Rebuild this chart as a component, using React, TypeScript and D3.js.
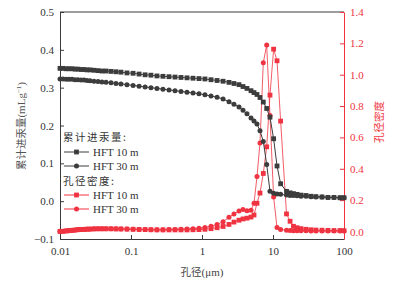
import { useEffect, useRef } from "react";
import * as d3 from "d3";

// pore diameter (µm), shared by both samples
const diameters = [
  0.01, 0.011, 0.0122, 0.0134, 0.0148, 0.0163, 0.0179, 0.0198, 0.0218, 0.024, 0.0265,
  0.0301, 0.0343, 0.039, 0.0445, 0.0523, 0.0615, 0.0723, 0.0878, 0.107, 0.13,
  0.158, 0.191, 0.232, 0.282, 0.343, 0.417, 0.506, 0.615, 0.747, 0.907,
  1.1, 1.34, 1.63, 1.98, 2.4, 2.82, 3.32, 3.78, 4.3, 4.9,
  5.4, 5.95, 6.56, 7.3, 8.15, 9.07, 10.2, 11.4, 12.8,
  15.5, 17.4, 19.4, 21.8, 24.8, 29.2, 34.3, 40.3, 49.0, 59.5, 72.3, 87.8, 100,
];

// cumulative intrusion (mL/g)
const cum10 = [
  0.351, 0.351, 0.35, 0.35, 0.35, 0.349, 0.349, 0.348, 0.348, 0.347, 0.347,
  0.346, 0.345, 0.344, 0.344, 0.343, 0.342, 0.341, 0.339, 0.338, 0.336,
  0.334, 0.333, 0.331, 0.33, 0.329, 0.328, 0.327, 0.326, 0.325, 0.324,
  0.323, 0.321, 0.319, 0.317, 0.314, 0.311, 0.308, 0.303, 0.298, 0.292,
  0.287, 0.282, 0.274, 0.262, 0.245, 0.222, 0.165, 0.093, 0.046,
  0.026, 0.022, 0.02, 0.018, 0.016, 0.015, 0.013, 0.012, 0.011, 0.01, 0.01, 0.009, 0.009,
];
const cum30 = [
  0.323, 0.323, 0.322, 0.322, 0.322, 0.321, 0.321, 0.32, 0.32, 0.319, 0.318,
  0.317, 0.316, 0.315, 0.314, 0.313, 0.311, 0.31, 0.308, 0.306, 0.304,
  0.302, 0.3, 0.298, 0.296, 0.294, 0.292, 0.29, 0.288, 0.286, 0.284,
  0.281, 0.278, 0.275, 0.27, 0.263, 0.256, 0.249, 0.24, 0.231, 0.22,
  0.212, 0.204, 0.186, 0.158, 0.097, 0.026, 0.021, 0.019, 0.018,
  0.016, 0.015, 0.015, 0.014, 0.013, 0.013, 0.012, 0.011, 0.011, 0.01, 0.01, 0.009, 0.009,
];

// pore size density
const dens10 = [
  0.0, 0.001, 0.003, 0.005, 0.007, 0.009, 0.011, 0.012, 0.013, 0.014, 0.015,
  0.016, 0.017, 0.017, 0.017, 0.017, 0.016, 0.016, 0.015, 0.014, 0.013,
  0.012, 0.011, 0.01, 0.01, 0.01, 0.01, 0.01, 0.01, 0.011, 0.012,
  0.014, 0.018, 0.024, 0.032, 0.045, 0.06, 0.072, 0.08, 0.085, 0.092,
  0.105, 0.18, 0.245, 0.37, 0.54, 0.87, 1.163, 1.089, 0.704,
  0.112, 0.065, 0.033, 0.024, 0.018, 0.014, 0.011, 0.009, 0.008, 0.007, 0.006, 0.006, 0.005,
];
const dens30 = [
  0.002, 0.002, 0.004, 0.006, 0.008, 0.01, 0.012, 0.013, 0.014, 0.015, 0.016,
  0.017, 0.018, 0.018, 0.018, 0.017, 0.017, 0.016, 0.015, 0.014, 0.013,
  0.012, 0.011, 0.011, 0.011, 0.012, 0.013, 0.014, 0.016, 0.018, 0.02,
  0.026, 0.034, 0.045, 0.062, 0.09, 0.112, 0.13, 0.14, 0.133, 0.136,
  0.18, 0.35, 0.565, 1.076, 1.19, 0.74, 0.22, 0.025, 0.013,
  0.008, 0.006, 0.005, 0.005, 0.004, 0.004, 0.003, 0.003, 0.003, 0.003, 0.003, 0.003, 0.003,
];

const xTicks = [0.01, 0.1, 1, 10, 100];
const leftTicks = [-0.1, 0.0, 0.1, 0.2, 0.3, 0.4, 0.5];
const rightTicks = [0.0, 0.2, 0.4, 0.6, 0.8, 1.0, 1.2, 1.4];

const GRAY = "#3c3c3c";
const RED = "#ef3340";
const FONT = "'Liberation Serif', 'DejaVu Serif', serif";
const CJK = "'Noto Sans CJK SC', sans-serif";

export default function App() {
  const svgRef = useRef<SVGSVGElement>(null);

  useEffect(() => {
    const width = 407;
    const height = 284;
    const margin = { top: 12, right: 63, bottom: 45, left: 60 };
    const svg = d3.select(svgRef.current);
    svg.selectAll("*").remove();

    const x = d3
      .scaleLog()
      .domain([0.01, 100])
      .range([margin.left, width - margin.right]);
    const yL = d3
      .scaleLinear()
      .domain([-0.1, 0.5])
      .range([height - margin.bottom, margin.top]);
    const yR = d3
      .scaleLinear()
      .domain([-0.048, 1.4])
      .range([height - margin.bottom, margin.top]);

    // top frame line
    svg
      .append("line")
      .attr("x1", margin.left)
      .attr("x2", width - margin.right)
      .attr("y1", margin.top)
      .attr("y2", margin.top)
      .attr("stroke", GRAY)
      .attr("stroke-width", 1);

    // x axis
    const gx = svg
      .append("g")
      .attr("transform", `translate(0,${height - margin.bottom})`)
      .call(
        d3
          .axisBottom(x)
          .tickValues(xTicks)
          .tickFormat((d) => String(d))
          .tickSizeInner(-4)
          .tickSizeOuter(0)
          .tickPadding(8)
      );
    gx.select(".domain").attr("stroke", GRAY);
    gx.selectAll(".tick line").attr("stroke", GRAY);
    gx.selectAll("text")
      .attr("fill", "#333")
      .style("font-family", FONT)
      .style("font-size", "11px");

    // left axis
    const gl = svg
      .append("g")
      .attr("transform", `translate(${margin.left},0)`)
      .call(
        d3
          .axisLeft(yL)
          .tickValues(leftTicks)
          .tickFormat(d3.format(".1f"))
          .tickSizeInner(-4)
          .tickSizeOuter(0)
          .tickPadding(6)
      );
    gl.select(".domain").attr("stroke", GRAY);
    gl.selectAll(".tick line").attr("stroke", GRAY);
    gl.selectAll("text")
      .attr("fill", "#333")
      .style("font-family", FONT)
      .style("font-size", "11px");

    // right axis
    const gr = svg
      .append("g")
      .attr("transform", `translate(${width - margin.right},0)`)
      .call(
        d3
          .axisRight(yR)
          .tickValues(rightTicks)
          .tickFormat(d3.format(".1f"))
          .tickSizeInner(-4)
          .tickSizeOuter(0)
          .tickPadding(6)
      );
    gr.select(".domain").attr("stroke", RED);
    gr.selectAll(".tick line").attr("stroke", RED);
    gr.selectAll("text")
      .attr("fill", RED)
      .style("font-family", FONT)
      .style("font-size", "11px");

    // axis titles
    svg
      .append("text")
      .attr("x", 202)
      .attr("y", 276)
      .attr("text-anchor", "middle")
      .attr("fill", "#444")
      .style("font-size", "10.5px")
      .style("font-family", CJK)
      .text("孔径")
      .append("tspan")
      .style("font-family", FONT)
      .style("font-size", "11px")
      .text("(μm)");

    const lt = svg
      .append("text")
      .attr("transform", "translate(25,126) rotate(-90)")
      .attr("text-anchor", "middle")
      .attr("fill", "#555")
      .style("font-size", "10.5px")
      .style("font-family", CJK);
    lt.append("tspan").text("累计进汞量");
    lt.append("tspan").style("font-family", FONT).style("font-size", "11px").text("(mLg");
    lt.append("tspan")
      .style("font-family", FONT)
      .style("font-size", "7px")
      .attr("dy", -4)
      .text("−1");
    lt.append("tspan")
      .style("font-family", FONT)
      .style("font-size", "11px")
      .attr("dy", 4)
      .text(")");

    svg
      .append("text")
      .attr("transform", "translate(383,122) rotate(-90)")
      .attr("text-anchor", "middle")
      .attr("fill", RED)
      .style("font-size", "10.5px")
      .style("font-family", CJK)
      .text("孔径密度");

    const series = [
      { ys: dens10, scale: yR, color: RED, shape: "square", lw: 0.8 },
      { ys: dens30, scale: yR, color: RED, shape: "circle", lw: 0.8 },
      { ys: cum10, scale: yL, color: GRAY, shape: "square", lw: 1 },
      { ys: cum30, scale: yL, color: GRAY, shape: "circle", lw: 1 },
    ];

    const drawMarker = (
      g: d3.Selection<SVGGElement, unknown, null, undefined>,
      shape: string,
      color: string,
      px: number,
      py: number
    ) => {
      if (shape === "square") {
        g.append("rect")
          .attr("x", px - 2.4)
          .attr("y", py - 2.4)
          .attr("width", 4.8)
          .attr("height", 4.8)
          .attr("fill", color);
      } else {
        g.append("circle").attr("cx", px).attr("cy", py).attr("r", 2.5).attr("fill", color);
      }
    };

    series.forEach((s) => {
      const pts: [number, number][] = diameters.map((d, i) => [x(d), s.scale(s.ys[i])]);
      const g = svg.append("g");
      g.append("path")
        .attr("d", d3.line()(pts))
        .attr("fill", "none")
        .attr("stroke", s.color)
        .attr("stroke-width", s.lw);
      pts.forEach(([px, py]) => drawMarker(g as any, s.shape, s.color, px, py));
    });

    // legend
    const leg = svg.append("g");
    const headers = [
      { y: 137, text: "累计进汞量:" },
      { y: 181, text: "孔径密度:" },
    ];
    headers.forEach((h) =>
      leg
        .append("text")
        .attr("x", 63)
        .attr("y", h.y + 4)
        .attr("fill", "#333")
        .style("font-family", CJK)
        .style("font-size", "10.5px")
        .style("letter-spacing", "1.5px")
        .text(h.text)
    );
    const entries = [
      { y: 152, color: GRAY, shape: "square", label: "HFT 10 m" },
      { y: 166, color: GRAY, shape: "circle", label: "HFT 30 m" },
      { y: 195, color: RED, shape: "square", label: "HFT 10 m" },
      { y: 209, color: RED, shape: "circle", label: "HFT 30 m" },
    ];
    entries.forEach((e) => {
      const g = leg.append("g");
      g.append("line")
        .attr("x1", 64)
        .attr("x2", 89)
        .attr("y1", e.y)
        .attr("y2", e.y)
        .attr("stroke", e.color)
        .attr("stroke-width", 1);
      drawMarker(g as any, e.shape, e.color, 76.5, e.y);
      g.append("text")
        .attr("x", 93)
        .attr("y", e.y + 4)
        .attr("fill", "#333")
        .style("font-family", FONT)
        .style("font-size", "11px")
        .text(e.label);
    });
  }, []);

  return (
    <svg
      ref={svgRef}
      width={407}
      height={284}
      style={{ position: "absolute", left: 0, top: 0, background: "#fff" }}
    />
  );
}
